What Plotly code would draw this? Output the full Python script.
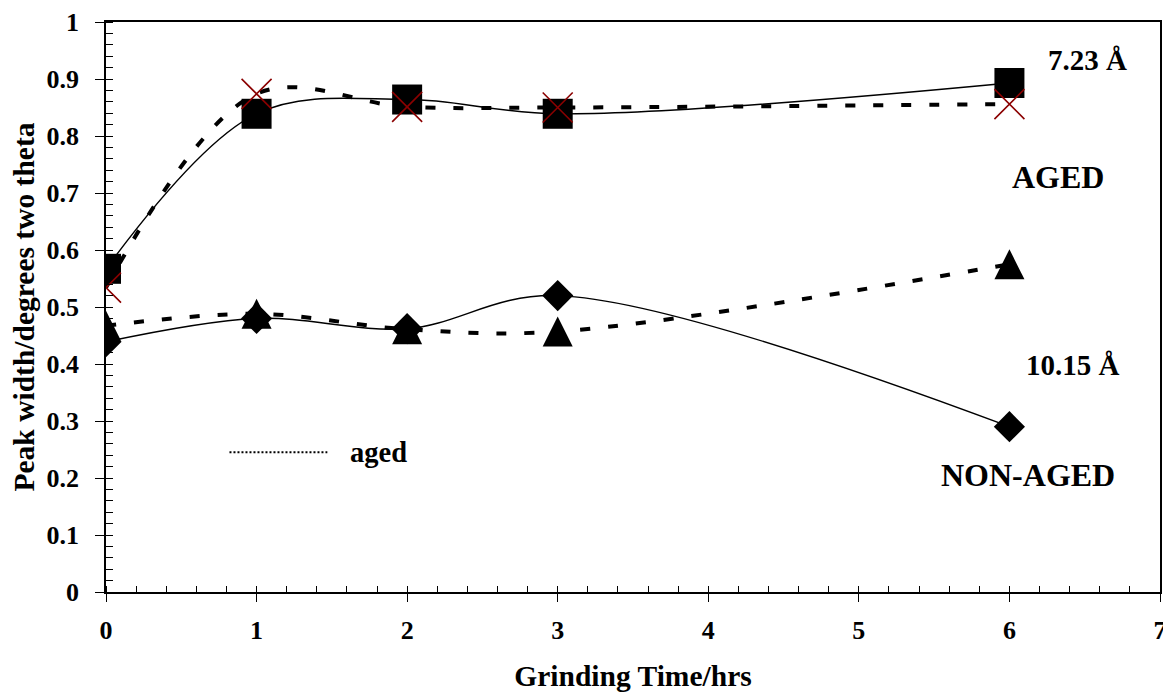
import plotly.graph_objects as go

# ---- data ----
grinding_time = [0, 1, 2, 3, 6]
aged_723 = [0.534, 0.874, 0.851, 0.850, 0.856]        # crosses, dashed
nonaged_723 = [0.567, 0.839, 0.864, 0.839, 0.893]     # squares, solid
aged_1015 = [0.467, 0.488, 0.461, 0.457, 0.575]       # triangles, dashed
nonaged_1015 = [0.439, 0.480, 0.462, 0.520, 0.290]    # diamonds, solid

x_ticks = [0, 1, 2, 3, 4, 5, 6, 7]
y_ticks = [0, 0.1, 0.2, 0.3, 0.4, 0.5, 0.6, 0.7, 0.8, 0.9, 1]
y_tick_labels = ["0", "0.1", "0.2", "0.3", "0.4", "0.5", "0.6", "0.7", "0.8", "0.9", "1"]

FONT = "Liberation Serif, Times New Roman, serif"
DASH = "10px,18px"

fig = go.Figure()

# lines
fig.add_trace(go.Scatter(x=grinding_time, y=nonaged_723, mode="lines",
                         line=dict(color="black", width=1.4, shape="spline", smoothing=1),
                         hoverinfo="skip"))
fig.add_trace(go.Scatter(x=grinding_time, y=aged_723, mode="lines",
                         line=dict(color="black", width=4, dash=DASH, shape="spline", smoothing=1),
                         hoverinfo="skip"))
fig.add_trace(go.Scatter(x=grinding_time, y=nonaged_1015, mode="lines",
                         line=dict(color="black", width=1.4, shape="spline", smoothing=1),
                         hoverinfo="skip"))
fig.add_trace(go.Scatter(x=grinding_time, y=aged_1015, mode="lines",
                         line=dict(color="black", width=4, dash=DASH, shape="spline", smoothing=1),
                         hoverinfo="skip"))

# markers
fig.add_trace(go.Scatter(x=grinding_time, y=aged_1015, mode="markers",
                         marker=dict(symbol="arrow-down", angle=180, standoff=15, size=30,
                                     color="black", line=dict(width=0))))
fig.add_trace(go.Scatter(x=grinding_time, y=nonaged_1015, mode="markers",
                         marker=dict(symbol="diamond", size=24, color="black", line=dict(width=0))))
fig.add_trace(go.Scatter(x=grinding_time, y=nonaged_723, mode="markers",
                         marker=dict(symbol="square", size=30, color="black", line=dict(width=0))))
fig.add_trace(go.Scatter(x=grinding_time, y=aged_723, mode="markers",
                         marker=dict(symbol="x-thin", size=30, color="#8B0000",
                                     line=dict(width=1.6, color="#8B0000"))))

# legend-like dotted line + label
fig.add_shape(type="line", x0=0.82, x1=1.47, y0=0.245, y1=0.245, xref="x", yref="y",
              line=dict(color="black", width=2, dash="2px,2px"))

annotations = [
    dict(x=1.81, y=0.245, text="aged", size=28.5),
    dict(x=6.52, y=0.933, text="7.23 Å", size=29),
    dict(x=6.32, y=0.728, text="AGED", size=32),
    dict(x=6.42, y=0.398, text="10.15 Å", size=29),
    dict(x=6.12, y=0.205, text="NON-AGED", size=32),
]
for a in annotations:
    fig.add_annotation(x=a["x"], y=a["y"], text=a["text"], xref="x", yref="y",
                       showarrow=False, xanchor="center", yanchor="middle",
                       font=dict(family=FONT, size=a["size"], color="black", weight="bold"))

# page body has an 8px margin: size the figure so it fits the 1171x693 window
fig.update_layout(
    width=1163, height=685,
    margin=dict(l=98, r=11, t=14, b=101, autoexpand=False),
    paper_bgcolor="white", plot_bgcolor="white",
    showlegend=False,
    font=dict(family=FONT, color="black"),
    # overlay axis only to draw the inner half of the crossing major x ticks
    xaxis2=dict(overlaying="x", anchor="y", side="bottom", range=[0, 7],
                tickvals=x_ticks, showticklabels=False, ticks="inside", ticklen=7,
                tickwidth=1, tickcolor="black", showgrid=False, zeroline=False,
                showline=False, automargin=False),
)

fig.update_xaxes(
    selector=dict(overlaying=None),
)
fig.layout.xaxis.update(
    range=[0, 7], tickvals=x_ticks, ticktext=[str(v) for v in x_ticks],
    showgrid=False, zeroline=False, automargin=False,
    showline=True, linecolor="black", linewidth=1.5, mirror=True,
    ticks="outside", ticklen=8, tickwidth=1, tickcolor="black",
    ticklabelstandoff=6,
    minor=dict(dtick=0.2, ticks="inside", ticklen=6, tickwidth=1, tickcolor="black", showgrid=False),
    tickfont=dict(family=FONT, size=26, color="black", weight="bold"),
    title=dict(text="Grinding Time/hrs", standoff=21,
               font=dict(family=FONT, size=29.5, color="black", weight="bold")),
)
fig.update_yaxes(
    range=[0, 1], tickvals=y_ticks, ticktext=y_tick_labels,
    showgrid=False, zeroline=False, automargin=False,
    showline=True, linecolor="black", linewidth=1.5, mirror=True,
    ticks="outside", ticklen=9, tickwidth=1, tickcolor="black",
    ticklabelstandoff=11,
    minor=dict(dtick=0.02, ticks="inside", ticklen=7, tickwidth=1, tickcolor="black", showgrid=False),
    tickfont=dict(family=FONT, size=26, color="black", weight="bold"),
    title=dict(text="Peak width/degrees two theta", standoff=5,
               font=dict(family=FONT, size=29.5, color="black", weight="bold")),
)

fig.write_html("out.html")
